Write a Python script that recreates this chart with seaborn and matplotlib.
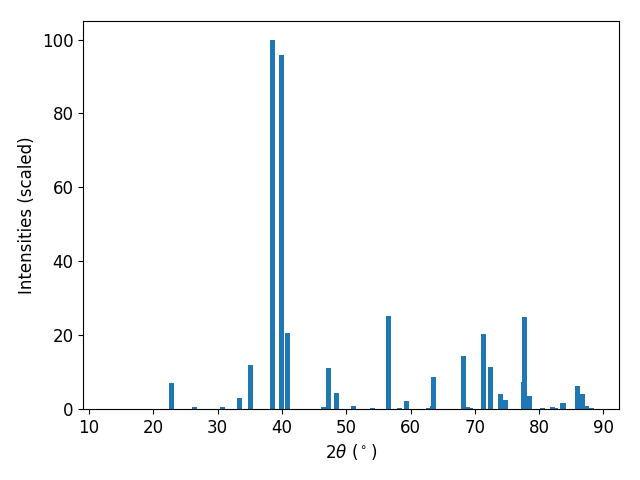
import matplotlib
matplotlib.use("Agg")
import matplotlib.pyplot as plt
import seaborn as sns

# peak positions (2theta) and scaled intensities
two_theta = [22.8, 26.4, 30.7, 33.4, 35.1, 38.5, 39.9, 40.8,
             46.5, 47.25, 48.5, 51.1, 54.1, 56.6, 58.3, 59.4,
             62.8, 63.4, 63.6, 68.24, 68.8, 69.3, 71.35, 72.4,
             74.0, 74.8, 77.5, 77.75, 78.5, 80.5, 82.1, 82.5,
             83.7, 86.0, 86.75, 87.4, 88.1]
intensity = [7.0, 0.4, 0.6, 3.1, 12.0, 100.0, 95.8, 20.7,
             0.5, 11.1, 4.3, 0.8, 0.3, 25.3, 0.3, 2.2,
             0.3, 0.8, 8.7, 14.4, 0.5, 0.3, 20.4, 11.4,
             4.1, 2.4, 7.3, 25.0, 3.5, 0.3, 0.5, 0.3,
             1.6, 6.2, 4.1, 0.8, 0.3]

color = sns.color_palette("tab10")[0]

fig, ax = plt.subplots(figsize=(6.4, 4.8), dpi=100)
ax.bar(two_theta, intensity, width=0.8, color=color)
ax.set_xlim(9.07, 92.4)
ax.set_xlabel(r"2$\theta$ ($^\circ$)", fontsize=12)
ax.set_ylabel("Intensities (scaled)", fontsize=12)
ax.tick_params(labelsize=12)
fig.subplots_adjust(left=0.13, right=0.967, top=0.956, bottom=0.148)
plt.savefig("out.png", dpi=100)
